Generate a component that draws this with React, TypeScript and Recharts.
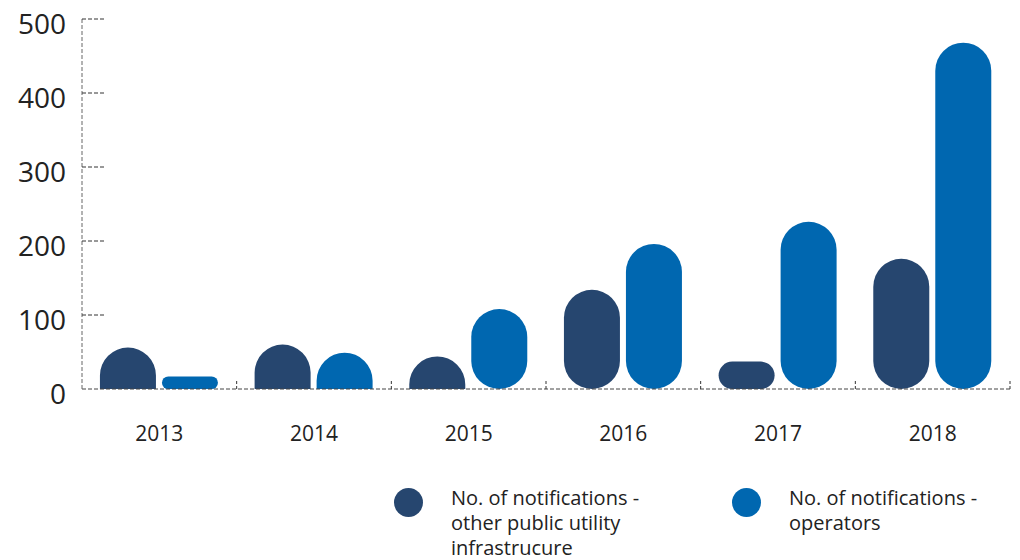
import { BarChart, Bar, XAxis, YAxis } from 'recharts';

const years = ['2013', '2014', '2015', '2016', '2017', '2018'];
const otherInfra = [56, 60, 44, 134, 37, 176];
const operators = [17, 49, 108, 196, 226, 468];
const yTicks = [0, 100, 200, 300, 400, 500];

const series = [
  { key: 'otherInfra', name: 'No. of notifications -\nother public utility\ninfrastrucure', color: '#26466f' },
  { key: 'operators', name: 'No. of notifications -\noperators', color: '#0067b0' },
];

const data = years.map((year, i) => ({
  year,
  otherInfra: otherInfra[i],
  operators: operators[i],
}));

const FONT = '"Open Sans", sans-serif';

// pill / half-pill bars like the original
const CapsuleBar = (props: any) => {
  const { x, y, width: w, height: h, fill } = props;
  if (!h || h <= 0) return null;
  if (h >= w) {
    return <rect x={x} y={y} width={w} height={h} rx={w / 2} ry={w / 2} fill={fill} />;
  }
  if (h > w / 2) {
    const r = w / 2;
    const d = `M${x},${y + h} L${x},${y + r} A${r},${r} 0 0 1 ${x + w},${y + r} L${x + w},${y + h} Z`;
    return <path d={d} fill={fill} />;
  }
  return <rect x={x} y={y} width={w} height={h} rx={h / 2} ry={h / 2} fill={fill} />;
};

const YTick = (props: any) => {
  const { x, y, payload } = props;
  return (
    <g>
      <text x={x} y={y + 4} textAnchor="end" dominantBaseline="central" fontSize={28} fill="#222" fontFamily={FONT}>
        {payload.value}
      </text>
      {payload.value !== 0 && (
        <line x1={x + 16} x2={x + 39} y1={y} y2={y} stroke="#333" strokeDasharray="4 2" />
      )}
    </g>
  );
};

const XTick = (props: any) => {
  const { x, y, payload, width, visibleTicksCount } = props;
  const bw = width && visibleTicksCount ? width / visibleTicksCount : 928 / 6;
  const bx = x + bw / 2;
  return (
    <g>
      <text x={x} y={y + 44} textAnchor="middle" dominantBaseline="central" fontSize={21} fill="#222" fontFamily={FONT}>
        {payload.value}
      </text>
      <line x1={bx} x2={bx} y1={y - 8} y2={y} stroke="#333" strokeDasharray="3 2" />
    </g>
  );
};

const legendPos = [394, 732];

export default function App() {
  return (
    <div style={{ position: 'absolute', left: 0, top: 0, width: 1020, height: 560, background: '#fff' }}>
      <BarChart
        width={1020}
        height={560}
        data={data}
        margin={{ top: 19, right: 10, bottom: 0, left: 0 }}
        barCategoryGap="11.6%"
        barGap={6}
      >
        <XAxis
          dataKey="year"
          height={171}
          tickSize={0}
          tickMargin={0}
          tickLine={false}
          axisLine={{ stroke: '#444', strokeDasharray: '4 2' }}
          tick={<XTick />}
          interval={0}
        />
        <YAxis
          width={82}
          domain={[0, 500]}
          ticks={yTicks}
          tickSize={0}
          tickMargin={16}
          tickLine={false}
          axisLine={{ stroke: '#666', strokeDasharray: '4 2' }}
          tick={<YTick />}
          interval={0}
        />
        {series.map((s) => (
          <Bar key={s.key} dataKey={s.key} name={s.name} fill={s.color} shape={<CapsuleBar />} isAnimationActive={false} />
        ))}
      </BarChart>
      {series.map((s, i) => (
        <div key={s.key} style={{ position: 'absolute', left: legendPos[i], top: 487, display: 'flex', fontFamily: FONT }}>
          <div style={{ width: 29, height: 29, borderRadius: '50%', background: s.color, marginTop: 1 }} />
          <div style={{ marginLeft: 28, fontSize: 20, lineHeight: '25px', color: '#222', whiteSpace: 'pre-line', marginTop: -2 }}>
            {s.name}
          </div>
        </div>
      ))}
    </div>
  );
}
